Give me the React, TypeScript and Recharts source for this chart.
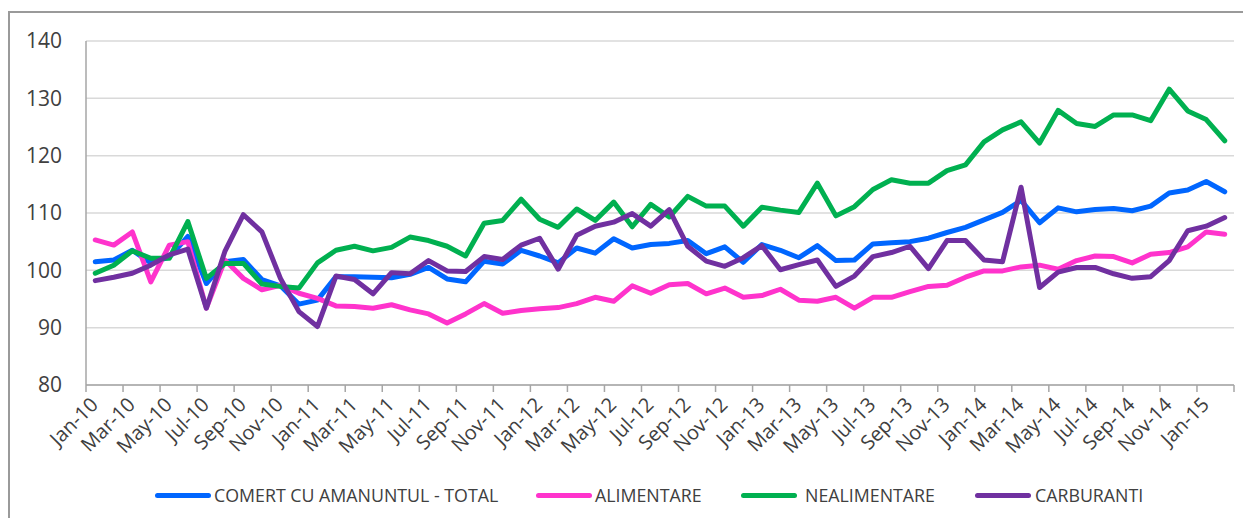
import React from 'react';
import { LineChart, Line, XAxis, YAxis, CartesianGrid } from 'recharts';

const months = [
  'Jan-10', 'Feb-10', 'Mar-10', 'Apr-10', 'May-10', 'Jun-10', 'Jul-10', 'Aug-10', 'Sep-10', 'Oct-10', 'Nov-10', 'Dec-10',
  'Jan-11', 'Feb-11', 'Mar-11', 'Apr-11', 'May-11', 'Jun-11', 'Jul-11', 'Aug-11', 'Sep-11', 'Oct-11', 'Nov-11', 'Dec-11',
  'Jan-12', 'Feb-12', 'Mar-12', 'Apr-12', 'May-12', 'Jun-12', 'Jul-12', 'Aug-12', 'Sep-12', 'Oct-12', 'Nov-12', 'Dec-12',
  'Jan-13', 'Feb-13', 'Mar-13', 'Apr-13', 'May-13', 'Jun-13', 'Jul-13', 'Aug-13', 'Sep-13', 'Oct-13', 'Nov-13', 'Dec-13',
  'Jan-14', 'Feb-14', 'Mar-14', 'Apr-14', 'May-14', 'Jun-14', 'Jul-14', 'Aug-14', 'Sep-14', 'Oct-14', 'Nov-14', 'Dec-14',
  'Jan-15', 'Feb-15',
];

const total = [
  101.5, 101.8, 103.5, 101.3, 102.3, 105.9, 97.7, 101.5, 101.9, 98.4, 97.3, 94.1,
  94.8, 98.9, 98.9, 98.8, 98.7, 99.3, 100.5, 98.5, 98.0, 101.6, 101.1, 103.5,
  102.5, 101.3, 103.9, 103.0, 105.5, 103.9, 104.5, 104.7, 105.2, 102.9, 104.1, 101.4,
  104.5, 103.5, 102.2, 104.3, 101.7, 101.8, 104.6, 104.8, 105.0, 105.6, 106.6, 107.5,
  108.8, 110.1, 112.2, 108.3, 110.9, 110.2, 110.6, 110.8, 110.4, 111.2, 113.5, 114.0,
  115.5, 113.7,
];

const alimentare = [
  105.3, 104.4, 106.7, 98.0, 104.4, 105.0, 93.4, 101.8, 98.6, 96.6, 97.4, 96.0,
  95.1, 93.8, 93.7, 93.4, 94.0, 93.1, 92.4, 90.8, 92.4, 94.2, 92.5, 93.0,
  93.3, 93.5, 94.2, 95.3, 94.6, 97.3, 96.0, 97.5, 97.7, 95.9, 96.9, 95.3,
  95.6, 96.7, 94.8, 94.6, 95.3, 93.4, 95.3, 95.3, 96.3, 97.2, 97.4, 98.8,
  99.9, 99.9, 100.6, 100.9, 100.2, 101.7, 102.5, 102.4, 101.3, 102.8, 103.1, 104.1,
  106.7, 106.3,
];

const nealimentare = [
  99.5, 100.9, 103.4, 102.1, 102.1, 108.5, 98.6, 101.2, 101.2, 97.6, 97.2, 96.9,
  101.3, 103.5, 104.2, 103.4, 104.0, 105.8, 105.2, 104.2, 102.5, 108.2, 108.7, 112.4,
  108.9, 107.5, 110.7, 108.7, 111.9, 107.6, 111.5, 109.3, 112.9, 111.2, 111.2, 107.7,
  111.0, 110.5, 110.1, 115.2, 109.5, 111.1, 114.1, 115.8, 115.2, 115.2, 117.4, 118.4,
  122.4, 124.5, 125.9, 122.2, 127.9, 125.6, 125.1, 127.1, 127.1, 126.1, 131.6, 127.8,
  126.3, 122.6,
];

const carburanti = [
  98.2, 98.8, 99.5, 100.9, 102.7, 103.7, 93.4, 103.3, 109.7, 106.7, 98.6, 92.8,
  90.2, 99.0, 98.4, 95.9, 99.6, 99.4, 101.7, 99.9, 99.8, 102.4, 101.9, 104.4,
  105.6, 100.2, 106.1, 107.7, 108.4, 109.9, 107.7, 110.6, 104.2, 101.6, 100.7, 102.2,
  104.3, 100.1, 101.0, 101.8, 97.2, 99.0, 102.4, 103.1, 104.2, 100.3, 105.2, 105.2,
  101.8, 101.5, 114.5, 97.0, 99.7, 100.5, 100.5, 99.4, 98.6, 98.9, 101.7, 106.9,
  107.7, 109.2,
];

const yTicks = [80, 90, 100, 110, 120, 130, 140];
const xTicks = months.map((_, i) => i).filter(i => i % 2 === 0);

const series = [
  { key: 'total', name: 'COMERT CU AMANUNTUL - TOTAL', color: '#0066FF' },
  { key: 'alimentare', name: 'ALIMENTARE', color: '#FF33CC' },
  { key: 'nealimentare', name: 'NEALIMENTARE', color: '#00B050' },
  { key: 'carburanti', name: 'CARBURANTI', color: '#7030A0' },
];

// legend item left edges (px inside the chart box)
const legendLeft = [147, 528, 733, 967];
const legendTextGap = [3, 3, 8, 4];

const data = months.map((m, i) => ({
  idx: i,
  month: m,
  total: total[i],
  alimentare: alimentare[i],
  nealimentare: nealimentare[i],
  carburanti: carburanti[i],
}));

const W = 1235;
const H = 510;
const MARGIN = { top: 33, right: 9, bottom: 0, left: 0 };
const Y_AXIS_W = 78;
const PLOT_W = W - MARGIN.left - MARGIN.right - Y_AXIS_W;
const BAND = PLOT_W / months.length;
const FONT = '"Open Sans", sans-serif';
const TEXT = '#404040';
const AXIS = '#a6a6a6';

const MonthTick = (props: any) => {
  const { x, y, payload } = props;
  const i = payload.value as number;
  const ax = x + 4;
  const ay = y + 21;
  return (
    <g>
      <line x1={x - BAND / 2} x2={x - BAND / 2} y1={y} y2={y + 7} stroke={AXIS} strokeWidth={1.5} />
      {i === months.length - 2 && (
        <line x1={x + BAND * 1.5} x2={x + BAND * 1.5} y1={y} y2={y + 7} stroke={AXIS} strokeWidth={1.5} />
      )}
      <text
        x={ax}
        y={ay}
        textAnchor="end"
        transform={`rotate(-45, ${ax}, ${ay})`}
        fill={TEXT}
        fontSize={20}
        fontFamily={FONT}
      >
        {months[i]}
      </text>
    </g>
  );
};

export default function App() {
  return (
    <div style={{ position: 'relative', width: W, height: H, overflow: 'hidden', background: '#fff' }}>
      <div
        style={{
          position: 'absolute', left: 0, top: 3, width: W + 40, height: H + 40,
          border: '2px solid #9a9a9a', boxSizing: 'border-box',
        }}
      />
      <div style={{ position: 'absolute', left: 0, top: 0 }}>
        <LineChart width={W} height={H} data={data} margin={MARGIN}>
          <CartesianGrid vertical={false} stroke="#d9d9d9" strokeWidth={1.5} />
          <XAxis
            type="number"
            dataKey="idx"
            domain={[-0.5, months.length - 0.5]}
            ticks={xTicks}
            interval={0}
            height={133}
            tickSize={0}
            tickMargin={0}
            tickLine={false}
            axisLine={{ stroke: AXIS, strokeWidth: 1.5 }}
            tick={<MonthTick />}
          />
          <YAxis
            domain={[80, 140]}
            ticks={yTicks}
            width={Y_AXIS_W}
            tickSize={0}
            tickMargin={24}
            tickLine={false}
            axisLine={{ stroke: AXIS, strokeWidth: 1.5 }}
            tick={{ fill: TEXT, fontSize: 21, fontFamily: FONT }}
          />
          {series.map(s => (
            <Line
              key={s.key}
              dataKey={s.key}
              name={s.name}
              stroke={s.color}
              strokeWidth={5}
              strokeLinejoin="round"
              strokeLinecap="round"
              dot={false}
              activeDot={false}
              isAnimationActive={false}
            />
          ))}
        </LineChart>
      </div>
      {series.map((s, i) => (
        <div
          key={s.key}
          style={{
            position: 'absolute', left: legendLeft[i], top: 477, height: 20,
            display: 'flex', alignItems: 'center',
            fontFamily: FONT, fontSize: 17.8, color: TEXT,
          }}
        >
          <div style={{ width: 56, height: 5, borderRadius: 3, background: s.color, marginRight: legendTextGap[i] }} />
          <span style={{ lineHeight: '20px', whiteSpace: 'nowrap' }}>{s.name}</span>
        </div>
      ))}
    </div>
  );
}
